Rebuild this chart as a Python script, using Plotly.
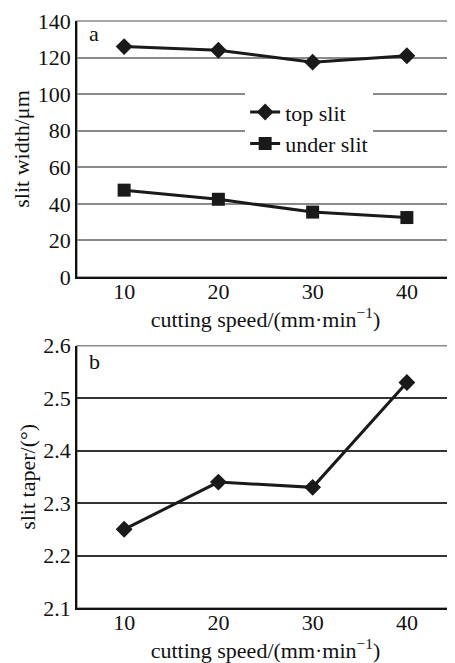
import plotly.graph_objects as go

speed = [10, 20, 30, 40]
top_slit = [126, 124, 117.5, 121]
under_slit = [47.5, 42.5, 35.5, 32.5]
taper = [2.25, 2.34, 2.33, 2.53]

width_ticks = [0, 20, 40, 60, 80, 100, 120, 140]
taper_ticks = [2.1, 2.2, 2.3, 2.4, 2.5, 2.6]
xlabel = "cutting speed/(mm·min<sup>−1</sup>)"

FONT = "Liberation Serif"
LINE = "#1a1a1a"

fig = go.Figure()
fig.add_trace(go.Scatter(x=speed, y=top_slit, name="top slit", mode="lines+markers",
                         line=dict(color=LINE, width=3),
                         marker=dict(symbol="diamond", size=13, color=LINE),
                         xaxis="x", yaxis="y"))
fig.add_trace(go.Scatter(x=speed, y=under_slit, name="under slit", mode="lines+markers",
                         line=dict(color=LINE, width=3),
                         marker=dict(symbol="square", size=13, color=LINE),
                         xaxis="x", yaxis="y"))
fig.add_trace(go.Scatter(x=speed, y=taper, name="taper", mode="lines+markers",
                         line=dict(color=LINE, width=3),
                         marker=dict(symbol="diamond", size=13, color=LINE),
                         xaxis="x2", yaxis="y2", showlegend=False))

axis_common = dict(showline=True, linecolor="#111", linewidth=1.5, ticks="", ticklen=0,
                   tickfont=dict(family=FONT, size=22, color="#111"),
                   zeroline=False, automargin=False, ticklabeloverflow="allow")

fig.update_layout(
    width=447, height=655,
    margin=dict(l=69, r=1, t=13, b=55),
    paper_bgcolor="white", plot_bgcolor="white",
    font=dict(family=FONT, size=22, color="#111"),
    xaxis=dict(domain=[0, 1], range=[5, 45], tickvals=speed, showgrid=False,
               anchor="y", ticklabelstandoff=-6,
               title=dict(text=xlabel, font=dict(family=FONT, size=22), standoff=0),
               **axis_common),
    yaxis=dict(domain=[0.5639, 1], range=[0, 140], tickvals=width_ticks,
               showgrid=True, gridcolor="#8a8a8a", gridwidth=1.5, anchor="x",
               title=dict(text="slit width/μm", font=dict(family=FONT, size=22), standoff=2),
               **axis_common),
    xaxis2=dict(domain=[0, 1], range=[5, 45], tickvals=speed, showgrid=False,
                anchor="y2", ticklabelstandoff=-6,
                title=dict(text=xlabel, font=dict(family=FONT, size=22), standoff=0),
                **axis_common),
    yaxis2=dict(domain=[0, 0.4468], range=[2.1, 2.6], tickvals=taper_ticks,
                tickformat=".1f",
                showgrid=True, gridcolor="#333", gridwidth=1.5, anchor="x2",
                title=dict(text="slit taper/(°)", font=dict(family=FONT, size=22), standoff=2),
                **axis_common),
    legend=dict(x=0.446, y=0.8804, xanchor="left", yanchor="top",
                bgcolor="white", font=dict(family=FONT, size=22, color="#111"),
                itemwidth=30, tracegroupgap=0),
    showlegend=True,
)

for xr, yr in (("x domain", "y domain"), ("x2 domain", "y2 domain")):
    fig.add_shape(type="rect", xref=xr, yref=yr, x0=0, x1=1, y0=0, y1=1,
                  line=dict(color="#8a8a8a", width=1.5), layer="below")

fig.add_annotation(text="a", xref="x domain", yref="y domain", x=0.027, y=0.95,
                   showarrow=False, xanchor="left", yanchor="middle",
                   font=dict(family=FONT, size=22, color="#111"))
fig.add_annotation(text="b", xref="x2 domain", yref="y2 domain", x=0.027, y=0.94,
                   showarrow=False, xanchor="left", yanchor="middle",
                   font=dict(family=FONT, size=22, color="#111"))

fig.write_html("out.html")
